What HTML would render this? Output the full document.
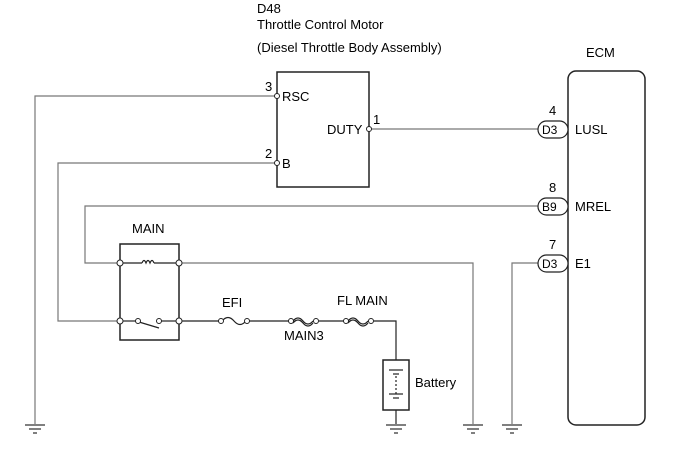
<!DOCTYPE html>
<html><head><meta charset="utf-8"><style>body{margin:0;background:#fff}svg{display:block}text{font-family:"Liberation Sans",sans-serif;font-size:13px;fill:#000}</style></head><body>
<svg width="690" height="465" viewBox="0 0 690 465" xmlns="http://www.w3.org/2000/svg">
<defs>
<g id="gnd"><line x1="-10" y1="0" x2="10" y2="0" stroke="#000"/><line x1="-6" y1="4" x2="6" y2="4" stroke="#000"/><line x1="-2" y1="8" x2="2" y2="8" stroke="#000"/></g>
</defs>
<text x="257" y="13">D48</text>
<text x="257" y="29">Throttle Control Motor</text>
<text x="257" y="52">(Diesel Throttle Body Assembly)</text>
<text x="586" y="57">ECM</text>
<g fill="none" stroke="#777" stroke-width="1.2">
<polyline points="275,96 35,96 35,424"/>
<polyline points="275,163 58,163 58,321 118,321"/>
<line x1="371" y1="129" x2="538" y2="129"/>
<polyline points="538,206 85,206 85,263 118,263"/>
<polyline points="181,263 473,263 473,424"/>
<polyline points="538,263 512,263 512,424"/>
</g>
<g fill="none" stroke="#222" stroke-width="1.2">
<rect x="277" y="72" width="92" height="115" stroke-width="1.5"/>
<rect x="568" y="71" width="77" height="354" rx="8" stroke-width="1.5"/>
<rect x="120" y="244" width="59" height="96" stroke-width="1.5"/>
<rect x="538" y="121" width="30" height="17" rx="8.5" fill="#fff"/>
<rect x="538" y="198" width="30" height="17" rx="8.5" fill="#fff"/>
<rect x="538" y="255" width="30" height="17" rx="8.5" fill="#fff"/>
<line x1="122" y1="263" x2="142" y2="263"/>
<path d="M142,263 q2,-5 4,0 q2,-5 4,0 q2,-5 4,0" />
<line x1="154" y1="263" x2="177" y2="263"/>
<line x1="122" y1="321" x2="136" y2="321"/>
<line x1="139" y1="322" x2="159" y2="328"/>
<line x1="161" y1="321" x2="177" y2="321"/>
<line x1="181" y1="321" x2="219" y2="321"/>
<path d="M222,321 q6,-7 12,0 q6,7 12,0"/>
<line x1="249" y1="321" x2="289" y2="321"/>
<path d="M293,321 q5,-6 10,0 q5,6 10,0 M293,323 q5,-6 10,0 q5,6 10,0"/>
<line x1="319" y1="321" x2="344" y2="321"/>
<path d="M348,321 q5,-6 10,0 q5,6 10,0 M348,323 q5,-6 10,0 q5,6 10,0"/>
<polyline points="374,321 396,321 396,360"/>
<rect x="383" y="360" width="26" height="50" stroke-width="1.5"/>
<line x1="396" y1="410" x2="396" y2="424"/>
<line x1="389" y1="370" x2="403" y2="370"/><line x1="393" y1="374" x2="399" y2="374"/>
<line x1="396" y1="376" x2="396" y2="394" stroke-dasharray="2,2"/>
<line x1="389" y1="394" x2="403" y2="394"/><line x1="393" y1="398" x2="399" y2="398"/>
</g>
<g fill="#fff" stroke="#222">
<circle cx="277" cy="96" r="2.5"/><circle cx="277" cy="163" r="2.5"/><circle cx="369" cy="129" r="2.5"/>
<circle cx="120" cy="263" r="3"/><circle cx="179" cy="263" r="3"/><circle cx="120" cy="321" r="3"/><circle cx="179" cy="321" r="3"/>
<circle cx="138" cy="321" r="2.5"/><circle cx="159" cy="321" r="2.5"/>
<circle cx="221" cy="321" r="2.5"/><circle cx="247" cy="321" r="2.5"/>
<circle cx="291" cy="321" r="2.5"/><circle cx="316" cy="321" r="2.5"/>
<circle cx="346" cy="321" r="2.5"/><circle cx="371" cy="321" r="2.5"/>
</g>
<use href="#gnd" x="35" y="425"/><use href="#gnd" x="396" y="425"/><use href="#gnd" x="473" y="425"/><use href="#gnd" x="512" y="425"/>
<text x="265" y="91">3</text><text x="282" y="101">RSC</text>
<text x="265" y="158">2</text><text x="282" y="168">B</text>
<text x="327" y="134">DUTY</text><text x="373" y="124">1</text>
<text x="549" y="115">4</text><text x="549" y="192">8</text><text x="549" y="249">7</text>
<text x="542" y="134" style="font-size:12px">D3</text><text x="542" y="211" style="font-size:12px">B9</text><text x="542" y="268" style="font-size:12px">D3</text>
<text x="575" y="134">LUSL</text><text x="575" y="211">MREL</text><text x="575" y="268">E1</text>
<text x="132" y="233">MAIN</text>
<text x="222" y="307">EFI</text>
<text x="284" y="340">MAIN3</text>
<text x="337" y="305">FL MAIN</text>
<text x="415" y="387">Battery</text>
</svg>
</body></html>
